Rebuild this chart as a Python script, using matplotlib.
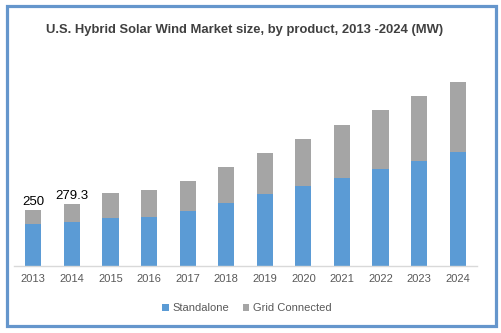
import matplotlib.pyplot as plt
from matplotlib.patches import Rectangle

years = ["2013", "2014", "2015", "2016", "2017", "2018",
         "2019", "2020", "2021", "2022", "2023", "2024"]
standalone = [190, 198.0, 216, 220, 248, 284, 324, 360, 396, 436, 472, 513]
grid_connected = [60, 81.3, 114, 122, 134, 161, 184, 211, 238, 266, 293, 315]
labelled = {0: "250", 1: "279.3"}

blue = "#5b9bd5"
grey = "#a5a5a5"
text_grey = "#595959"

plt.rcParams["font.family"] = ["Liberation Sans", "DejaVu Sans"]

W, H = 501, 333
fig = plt.figure(figsize=(W / 100, H / 100), dpi=100)
fig.patch.set_facecolor("white")

# blue frame around the whole figure
fig.patches.append(Rectangle((6.5 / W, 1 - 325.5 / H), 489 / W, 319.5 / H,
                             transform=fig.transFigure, fill=False,
                             edgecolor="#6596cc", linewidth=2.3))

ax = fig.add_axes([14 / W, 67 / H, 463 / W, 216 / H])
x = list(range(len(years)))
ax.bar(x, standalone, width=0.42, color=blue, label="Standalone")
ax.bar(x, grid_connected, width=0.42, bottom=standalone, color=grey,
       label="Grid Connected")

for i, txt in labelled.items():
    top = standalone[i] + grid_connected[i]
    ax.text(i, top + 9, txt, ha="center", va="bottom", fontsize=9.5,
            color="black")

ax.set_xlim(-0.5, len(years) - 0.5)
ax.set_ylim(0, 972)
ax.set_xticks(x)
ax.set_xticklabels(years, fontsize=8, color=text_grey)
ax.tick_params(axis="x", length=0, pad=6)
ax.set_yticks([])
for side in ["top", "left", "right"]:
    ax.spines[side].set_visible(False)
ax.spines["bottom"].set_color("#d9d9d9")
ax.spines["bottom"].set_linewidth(1)

fig.text(245 / W, 1 - 30 / H,
         "U.S. Hybrid Solar Wind Market size, by product, 2013 -2024 (MW)",
         ha="center", va="center", fontsize=9.4, fontweight="bold",
         color="#404040")

fig.legend(loc="center", bbox_to_anchor=(247 / W, 1 - 308 / H), ncol=2,
           frameon=False, fontsize=8, labelcolor=text_grey,
           handlelength=0.6, handleheight=0.6, handletextpad=0.35,
           columnspacing=1.2)

fig.savefig("out.png", dpi=100)
